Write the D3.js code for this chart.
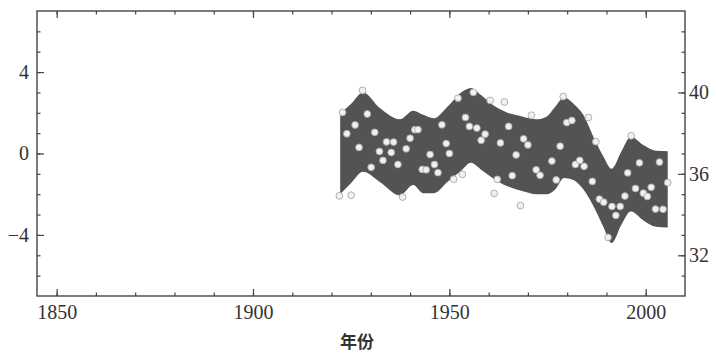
<!DOCTYPE html>
<html>
<head>
<meta charset="utf-8">
<script src="https://cdn.jsdelivr.net/npm/d3@7"></script>
<style>
  body { margin: 0; background: #fff; }
</style>
</head>
<body>
<svg id="chart" width="716" height="354"></svg>
<script>
// band (upper / lower envelope, left-axis units)
const bandYears = [1922.2, 1925, 1928, 1932.3, 1937.4, 1940.8, 1943.3, 1946, 1949.5, 1953, 1955.5, 1958, 1961, 1964.5, 1968.5, 1972.2, 1974.8, 1977, 1979.2, 1981.6, 1984.1, 1987, 1989.2, 1991.3, 1993.8, 1996.2, 1999.5, 2002.6, 2005.6];
const bandUpper = [1.95, 2.45, 3.0, 2.23, 1.68, 2.1, 1.9, 1.73, 2.3, 3.0, 3.22, 2.88, 2.39, 2.03, 1.82, 1.68, 1.82, 2.31, 2.75, 2.45, 1.9, 0.68, -0.13, -0.75, 0.1, 0.82, 0.4, 0.13, 0.11];
const bandLower = [-2.0, -1.45, -0.9, -1.4, -2.06, -1.55, -1.95, -1.95, -1.4, -0.85, -0.46, -0.78, -1.2, -1.59, -1.84, -2.0, -2.0, -1.75, -1.2, -1.3, -1.76, -2.7, -3.6, -4.4, -3.5, -2.85, -3.3, -3.6, -3.63];

// observations
const pointYears = [1922.0, 1922.8, 1923.9, 1925.0, 1926.0, 1927.0, 1927.9, 1929.1, 1930.1, 1931.0, 1932.2, 1933.1, 1934.0, 1935.2, 1935.8, 1936.9, 1938.1, 1939.0, 1940.0, 1941.2, 1942.0, 1943.1, 1944.1, 1945.1, 1946.2, 1947.1, 1948.1, 1949.2, 1950.0, 1951.1, 1952.2, 1953.3, 1954.1, 1955.1, 1956.1, 1957.0, 1958.1, 1959.1, 1960.4, 1961.4, 1962.2, 1963.0, 1964.0, 1965.1, 1966.0, 1967.0, 1968.1, 1968.9, 1970.0, 1970.9, 1972.1, 1973.1, 1976.1, 1977.2, 1978.2, 1979.0, 1979.9, 1981.2, 1982.1, 1983.2, 1984.3, 1985.4, 1986.4, 1987.3, 1988.2, 1989.3, 1990.4, 1991.4, 1992.4, 1993.5, 1994.7, 1995.4, 1996.3, 1997.4, 1998.4, 1999.4, 2000.4, 2001.4, 2002.5, 2003.5, 2004.4, 2005.6];
const pointValues = [-2.08, 2.02, 0.97, -2.05, 1.4, 0.3, 3.1, 1.94, -0.68, 1.04, 0.1, -0.34, 0.57, 0.05, 0.56, -0.54, -2.14, 0.23, 0.75, 1.17, 1.17, -0.78, -0.8, -0.05, -0.54, -0.94, 1.41, 0.49, 0.0, -1.26, 2.72, -1.02, 1.77, 1.33, 3.0, 1.25, 0.65, 0.95, 2.61, -1.96, -1.27, 0.52, 2.53, 1.33, -1.09, -0.07, -2.56, 0.72, 0.42, 1.88, -0.8, -1.07, -0.37, -1.3, 0.36, 2.8, 1.52, 1.62, -0.54, -0.34, -0.63, 1.77, -1.37, 0.58, -2.24, -2.39, -4.12, -2.6, -3.04, -2.6, -2.09, -0.95, 0.87, -1.72, -0.46, -1.95, -2.11, -1.66, -2.73, -0.42, -2.74, -1.43];

const xTicks = [1850, 1900, 1950, 2000];
const leftTicks = [4, 0, -4];
const rightTicks = [40, 36, 32];
const xTitle = "年份";

const mLeft = 37, mRight = 685, mTop = 11, mBottom = 296;

const svg = d3.select("#chart");

const x = d3.scaleLinear().domain([1845, 2010]).range([mLeft, mRight]);
const y = d3.scaleLinear().domain([-7, 7]).range([mBottom, mTop]);
const y2 = d3.scaleLinear().domain([30, 44]).range([mBottom, mTop]);

// band
const band = bandYears.map((yr, i) => [yr, bandUpper[i], bandLower[i]]);
const area = d3.area()
  .x(d => x(d[0]))
  .y0(d => y(d[2]))
  .y1(d => y(d[1]))
  .curve(d3.curveMonotoneX);
svg.append("path")
  .datum(band)
  .attr("d", area)
  .attr("fill", "#535353");

// points
svg.selectAll("circle.pt")
  .data(pointYears.map((yr, i) => [yr, pointValues[i]]))
  .enter()
  .append("circle")
  .attr("class", "pt")
  .attr("cx", d => x(d[0]))
  .attr("cy", d => y(d[1]))
  .attr("r", 3.4)
  .attr("fill", "#f0f0f0")
  .attr("stroke", "#a8a8a8")
  .attr("stroke-width", 0.9);

// axes, ticks drawn inward
const font = "'Liberation Serif', 'Times New Roman', serif";
function styleAxis(g) {
  g.select(".domain").remove();
  g.selectAll("line").attr("stroke", "#444").attr("stroke-width", 1.2);
  g.selectAll("text").attr("font-family", font).attr("font-size", 20).attr("fill", "#333");
}

const xMinor = d3.range(1850, 2010, 10);
svg.append("g").attr("transform", `translate(0,${mBottom})`)
  .call(d3.axisBottom(x).tickValues(xMinor).tickSize(-3.5).tickFormat(""))
  .call(styleAxis);
svg.append("g").attr("transform", `translate(0,${mBottom})`)
  .call(d3.axisBottom(x).tickValues(xTicks).tickSize(-7).tickPadding(9).tickFormat(d3.format("d")))
  .call(styleAxis);
svg.append("g").attr("transform", `translate(0,${mTop})`)
  .call(d3.axisTop(x).tickValues(xMinor).tickSize(-3.5).tickFormat(""))
  .call(styleAxis);
svg.append("g").attr("transform", `translate(0,${mTop})`)
  .call(d3.axisTop(x).tickValues(xTicks).tickSize(-7).tickFormat(""))
  .call(styleAxis);

svg.append("g").attr("transform", `translate(${mLeft},0)`)
  .call(d3.axisLeft(y).tickValues(d3.range(-6, 7)).tickSize(-3.5).tickFormat(""))
  .call(styleAxis);
svg.append("g").attr("transform", `translate(${mLeft},0)`)
  .call(d3.axisLeft(y).tickValues(leftTicks).tickSize(-7).tickPadding(8).tickFormat(d => d < 0 ? "\u2212" + Math.abs(d) : d))
  .call(styleAxis);

svg.append("g").attr("transform", `translate(${mRight},0)`)
  .call(d3.axisRight(y2).tickValues(d3.range(31, 44)).tickSize(-3.5).tickFormat(""))
  .call(styleAxis);
svg.append("g").attr("transform", `translate(${mRight},0)`)
  .call(d3.axisRight(y2).tickValues(rightTicks).tickSize(-7).tickPadding(4))
  .call(styleAxis);

// frame
svg.append("rect")
  .attr("x", mLeft).attr("y", mTop)
  .attr("width", mRight - mLeft).attr("height", mBottom - mTop)
  .attr("fill", "none")
  .attr("stroke", "#444")
  .attr("stroke-width", 1.4);

svg.append("text")
  .attr("x", (mLeft + mRight) / 2 - 4)
  .attr("y", 348)
  .attr("text-anchor", "middle")
  .attr("font-family", "'Noto Sans CJK SC', sans-serif")
  .attr("font-weight", 700)
  .attr("font-size", 17)
  .attr("fill", "#333")
  .text(xTitle);
</script>
</body>
</html>
